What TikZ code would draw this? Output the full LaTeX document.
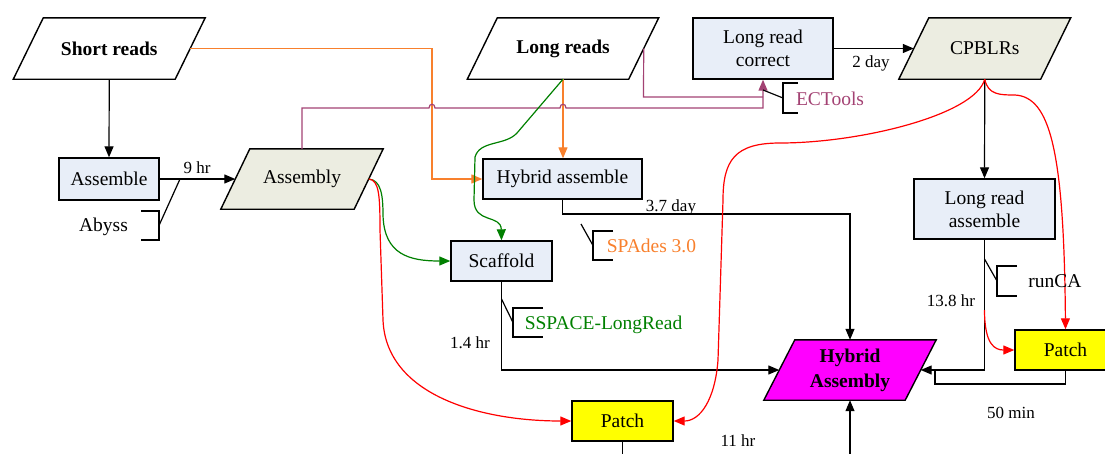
\documentclass[tikz,border=0pt]{standalone}
\usepackage{fontspec}
\setmainfont{Liberation Serif}
\usetikzlibrary{arrows.meta,backgrounds}
\definecolor{boxblue}{RGB}{232,238,248}
\definecolor{paragreen}{RGB}{236,237,225}
\definecolor{plum}{RGB}{163,66,115}
\definecolor{orng}{RGB}{248,128,45}
\definecolor{grn}{RGB}{0,128,0}
\definecolor{hyb}{RGB}{255,0,255}
\definecolor{ylw}{RGB}{255,255,0}
\begin{document}
\begin{tikzpicture}[x=1pt,y=-1pt,
  txt/.style={font=\fontsize{19.5}{23}\selectfont},
  bold/.style={font=\fontsize{19.5}{23}\selectfont\bfseries},
  lbl/.style={font=\fontsize{17}{20}\selectfont, anchor=base, inner sep=0pt},
  callt/.style={font=\fontsize{19.5}{23}\selectfont, anchor=base, inner sep=0pt},
  rbox/.style={txt, draw=black, line width=1.4pt, fill=boxblue, inner sep=0pt, align=center},
  pbox/.style={rbox, fill=ylw},
  pnode/.style={txt, inner sep=0pt, align=center},
  pshape/.style={draw=black, line width=1.4pt},
  conn/.style={line width=1.2pt, color=black},
  arr/.style={-{Triangle[length=11pt,width=9pt]}},
  brk/.style={line width=1.2pt, draw=black},
  orline/.style={conn, color=orng},
  plline/.style={conn, color=plum},
  grline/.style={conn, color=grn},
  rdline/.style={conn, color=red}
]
\useasboundingbox (0,0) rectangle (1105,453);

% nodes
\node[pnode, bold, minimum width=161.5pt, minimum height=61pt] (sr) at (109.25,48.5) {Short reads};
\node[pnode, bold, minimum width=161pt, minimum height=61pt] (lr) at (563,48.5) {Long reads};
\node[rbox, minimum width=140pt, minimum height=61pt] (lrc) at (763,48.5) {Long read\\correct};
\node[pnode, minimum width=141.5pt, minimum height=61pt] (cp) at (984.75,48.5) {CPBLRs};
\node[rbox, minimum width=100pt, minimum height=42pt] (asm) at (109,179) {Assemble};
\node[pnode, minimum width=133pt, minimum height=60pt] (asy) at (302,179) {Assembly};
\node[rbox, minimum width=159pt, minimum height=40pt] (ha) at (562.5,179) {Hybrid assemble};
\node[rbox, minimum width=101pt, minimum height=40pt] (sc) at (501.5,261) {Scaffold};
\node[rbox, minimum width=141pt, minimum height=60pt] (lra) at (984.5,209) {Long read\\assemble};
\node[pnode, bold, minimum width=141pt, minimum height=60pt] (hy) at (850,370) {Hybrid\\[2pt]Assembly};
\node[pbox, minimum width=101pt, minimum height=40pt] (p1) at (622.5,421) {Patch};
\node[pbox, minimum width=101pt, minimum height=40pt] (p2) at (1065.5,350) {Patch};

% parallelogram outlines
\begin{scope}[on background layer]
\draw[pshape, fill=white] ([xshift=15pt]sr.north west) -- ([xshift=15pt]sr.north east) -- ([xshift=-15pt]sr.south east) -- ([xshift=-15pt]sr.south west) -- cycle;
\draw[pshape, fill=white] ([xshift=15pt]lr.north west) -- ([xshift=15pt]lr.north east) -- ([xshift=-15pt]lr.south east) -- ([xshift=-15pt]lr.south west) -- cycle;
\draw[pshape, fill=paragreen] ([xshift=15pt]cp.north west) -- ([xshift=15pt]cp.north east) -- ([xshift=-15pt]cp.south east) -- ([xshift=-15pt]cp.south west) -- cycle;
\draw[pshape, fill=paragreen] ([xshift=14.5pt]asy.north west) -- ([xshift=14.5pt]asy.north east) -- ([xshift=-14.5pt]asy.south east) -- ([xshift=-14.5pt]asy.south west) -- cycle;
\draw[pshape, fill=hyb] ([xshift=15.5pt]hy.north west) -- ([xshift=15.5pt]hy.north east) -- ([xshift=-15.5pt]hy.south east) -- ([xshift=-15.5pt]hy.south west) -- cycle;
\end{scope}

% coordinates
\coordinate (o1) at (432,179);
\coordinate (c1) at (984.5,370);
\coordinate (c2) at (935,384);
\coordinate (c2b) at (935,370);
\coordinate (c3) at (562.5,214);
\coordinate (m1) at (643.5,97);
\coordinate (m2) at (763,97);
\coordinate (bot) at (850,456);
\coordinate (bot2) at (622.5,456);
\coordinate (rs) at (984.5,310);

% black connectors
\draw[conn, arr] (sr.south) -- (asm.north);
\draw[conn, arr] (asm.east) -- (asy.west);
\draw[conn, arr] (lrc.east) -- (cp.west);
\draw[conn, arr] (cp.south) -- (lra.north);
\draw[conn, arr] (lra.south) -- (c1) -- (hy.east);
\draw[conn] (p2.south) |- (c2) -- (c2b);
\draw[conn, arr] (ha.south) -- (c3) -| (hy.north);
\draw[conn, arr] (sc.south) |- (hy.west);
\draw[conn, arr] (bot) -- (hy.south);
\draw[conn] (p1.south) -- (bot2);

% orange
\draw[orline, arr] (sr.east) -| (o1) -- (ha.west);
\draw[orline, arr] (lr.south) -- (lr.south |- ha.north);

% plum
\draw[plline] (lr.east) -- (m1) -- (m2);
\draw[plline, arr] (asy.north) -- (302,108) -- (429,108) .. controls (429,103) and (435,103) .. (435,108)
  -- (560,108) .. controls (560,103) and (566,103) .. (566,108) -- (763,108) -- (lrc.south);

% green
\draw[grline, arr] (lr.south) -- (517,133) .. controls (505,146) and (480,140) .. (475,157) -- (474,200) .. controls (474,224) and (501,214) .. (sc.north);
\draw[grline, arr] (asy.east) .. controls (381,180) and (383,195) .. (383,215) .. controls (384,255) and (410,261) .. (sc.west);

% red
\draw[rdline, arr] (asy.east) .. controls (379,180) and (380,195) .. (380,230) -- (383,320) .. controls (386,395) and (480,421) .. (p1.west);
\draw[rdline, arr] (cp.south) .. controls (975,115) and (860,143) .. (780,143) .. controls (735,143) and (723,160) .. (723,200) -- (718,360) .. controls (715,400) and (700,421) .. (p1.east);
\draw[rdline, arr] (cp.south) .. controls (988,95) and (1000,95) .. (1015,95) .. controls (1050,97) and (1064,150) .. (p2.north);
\draw[rdline, arr] (rs) .. controls (984.5,345) and (995,350) .. (p2.west);

% labels
\node[lbl] (l9) at (197,173) {9 hr};
\node[lbl] (l2d) at (871,67) {2 day};
\node[lbl] (l37) at (671,211) {3.7 day};
\node[lbl] (l14) at (470,348) {1.4 hr};
\node[lbl] (l138) at (951,306) {13.8 hr};
\node[lbl] (l50) at (1011,418) {50 min};
\node[lbl] (l11) at (738,446) {11 hr};

% callouts
\draw[brk] (141,211) -- (159,211) -- (159,240) -- (141,240);
\draw[brk] (159,225.5) -- (180,179);
\node[callt] (tab) at (103.5,231) {Abyss};

\draw[brk] (798,83) -- (783,83) -- (783,113) -- (798,113);
\draw[brk] (783,98) -- (763,90);
\node[callt, text=plum] (tec) at (830,105) {ECTools};

\draw[brk] (613,231) -- (593,231) -- (593,260) -- (613,260);
\draw[brk] (593,245.5) -- (581,224);
\node[callt, text=orng] (tsp) at (651.5,252) {SPAdes 3.0};

\draw[brk] (543,308) -- (513,308) -- (513,337) -- (543,337);
\draw[brk] (513,322.5) -- (501.5,299);
\node[callt, text=grn] (tss) at (603.5,329) {SSPACE-LongRead};

\draw[brk] (1017,266) -- (997,266) -- (997,296) -- (1017,296);
\draw[brk] (997,281) -- (984.5,259);
\node[callt] (trc) at (1055,287) {runCA};
\end{tikzpicture}
\end{document}
